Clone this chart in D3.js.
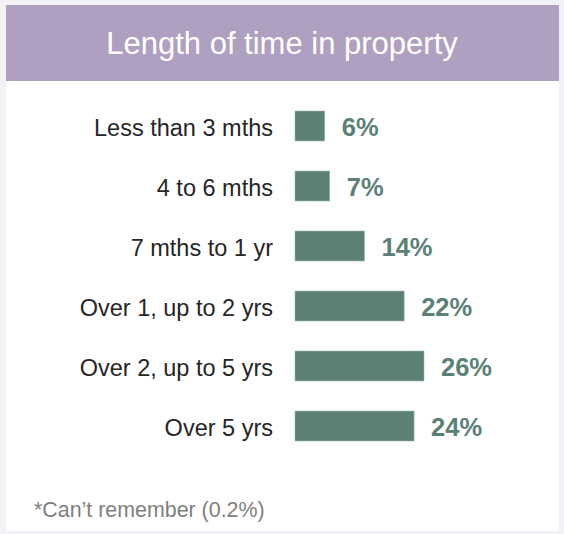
<!DOCTYPE html>
<html>
<head>
<meta charset="utf-8">
<script src="https://cdn.jsdelivr.net/npm/d3@7"></script>
<style>
  html, body { margin: 0; padding: 0; background: #f3f1f6; }
  svg { display: block; }
</style>
</head>
<body>
<svg id="chart" width="564" height="534"></svg>
<script>
const title = "Length of time in property";
const categories = ["Less than 3 mths", "4 to 6 mths", "7 mths to 1 yr", "Over 1, up to 2 yrs", "Over 2, up to 5 yrs", "Over 5 yrs"];
const values = [6, 7, 14, 22, 26, 24];
const valueLabels = ["6%", "7%", "14%", "22%", "26%", "24%"];
const footnote = "*Can\u2019t remember (0.2%)";

const FONT = "'Liberation Sans', Arial, sans-serif";
const svg = d3.select("#chart");
const W = 564, H = 534;

svg.append("rect").attr("x", 0).attr("y", 0).attr("width", W).attr("height", H).attr("fill", "#f3f1f6");
svg.append("rect").attr("x", 6).attr("y", 5).attr("width", 553).attr("height", 526).attr("fill", "#ffffff");
svg.append("rect").attr("x", 6).attr("y", 5).attr("width", 553).attr("height", 76).attr("fill", "#af9fc0");
svg.append("text")
  .attr("x", 282).attr("y", 53.5)
  .attr("text-anchor", "middle")
  .attr("font-family", FONT)
  .attr("font-size", 31)
  .attr("fill", "#ffffff")
  .text(title);

const x = d3.scaleLinear().domain([0, 26]).range([295, 424]);
const y = d3.scaleBand().domain(categories).range([96, 456]).paddingInner(0.5).paddingOuter(0.25);

const g = svg.append("g");
g.selectAll("rect.bar").data(categories).join("rect")
  .attr("class", "bar")
  .attr("x", x(0))
  .attr("y", d => y(d))
  .attr("width", (d, i) => x(values[i]) - x(0))
  .attr("height", y.bandwidth())
  .attr("fill", "#5b8076")
  .attr("stroke", "#9fb7af")
  .attr("stroke-width", 0.6);

g.selectAll("text.cat").data(categories).join("text")
  .attr("class", "cat")
  .attr("x", 273)
  .attr("y", d => y(d) + y.bandwidth() / 2)
  .attr("dy", "0.42em")
  .attr("text-anchor", "end")
  .attr("font-family", FONT)
  .attr("font-size", 23.5)
  .attr("fill", "#262626")
  .text(d => d);

g.selectAll("text.val").data(categories).join("text")
  .attr("class", "val")
  .attr("x", (d, i) => x(values[i]) + 17)
  .attr("y", d => y(d) + y.bandwidth() / 2)
  .attr("dy", "0.4em")
  .attr("font-family", FONT)
  .attr("font-weight", "bold")
  .attr("font-size", 25.5)
  .attr("fill", "#5b8076")
  .text((d, i) => valueLabels[i]);

svg.append("text")
  .attr("x", 34).attr("y", 517)
  .attr("font-family", FONT)
  .attr("font-size", 21.4)
  .attr("fill", "#7f7f7f")
  .text(footnote);
</script>
</body>
</html>
